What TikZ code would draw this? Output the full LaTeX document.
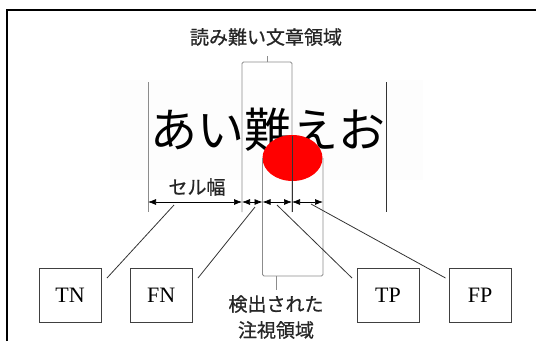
\documentclass[tikz,border=0pt]{standalone}
\usepackage{fontspec}
\setmainfont{Liberation Serif}
\newfontfamily\jp{Noto Sans CJK JP}
\newfontfamily\jpm[FakeBold=0.8]{Noto Sans CJK JP}
\usetikzlibrary{arrows.meta,shapes.geometric,calc}
\begin{document}
\begin{tikzpicture}[x=1pt,y=-1pt,
  lbl/.style={font=\jpm\fontsize{19}{24}\selectfont, inner sep=0pt, text=black!85},
  cbox/.style={draw=black!75, line width=0.9pt, minimum width=62pt, minimum height=54pt, inner sep=0pt, font=\fontsize{22}{24}\selectfont},
  gline/.style={draw=black!45, line width=0.8pt},
  dline/.style={draw=black!80, line width=0.8pt},
  lead/.style={draw=black!80, line width=0.8pt},
  dim/.style={draw=black, line width=0.7pt, {Latex[length=8pt,width=6pt]}-{Latex[length=8pt,width=6pt]}}
]
\useasboundingbox (0,0) rectangle (536,341);
% frame
\draw[line width=1.6pt, black] (7,341) -- (7,10) -- (536,10);
% faint background
\fill[black!0.6] (110,80) rectangle (423,180);
% big text
\node[anchor=base west, inner sep=0pt, font=\jp\fontsize{47}{50}\selectfont] (big) at (150,147) {あい難えお};
% cell lines
\coordinate (c0t) at (148,82); \coordinate (c0b) at (148,212);
\coordinate (c3t) at (386,82); \coordinate (c3b) at (386,212);
\draw[gline] (c0t) -- (c0b);
\draw[dline] (c3t) -- (c3b);
% top bracket
\coordinate (tbL) at (242,212); \coordinate (tbR) at (292,212);
\coordinate (tbtick) at (267,56);
\draw[gline, rounded corners=1.5pt] (tbL) -- (242,62) -- (292,62) -- (tbR);
\draw[gline] (267,62) -- (tbtick);
% top label
\node[lbl] (hard) at (266,37) {読み難い文章領域};
% gaze ellipse
\node[ellipse, fill=red, minimum width=60pt, minimum height=46pt, inner sep=0pt] (gaze) at (292.5,158) {};
\draw[dline] (292,136) -- (292,212);
% bottom bracket
\coordinate (bbL) at (262.5,158); \coordinate (bbR) at (323,158);
\coordinate (bbtick) at (276,290);
\draw[gline, rounded corners=1.5pt] (bbL) -- (262.5,276) -- (323,276) -- (bbR);
\draw[gline] (276,276) -- (bbtick);
\node[lbl, align=center, font=\jpm\fontsize{19}{26}\selectfont] (det) at (276,317) {検出された\\注視領域};
% dimension arrows
\coordinate (a0) at (148,202); \coordinate (a1) at (242,202);
\coordinate (a2) at (262.5,202); \coordinate (a3) at (292,202);
\coordinate (a4) at (323,202);
\draw[dim] (a0) -- (a1);
\draw[dim] (a1) -- (a2);
\draw[dim] (a2) -- (a3);
\draw[dim] (a3) -- (a4);
\node[lbl] (cell) at (197,187) {セル幅};
% boxes
\node[cbox] (TN) at (70,295) {TN};
\node[cbox] (FN) at (161.3,295) {FN};
\node[cbox] (TP) at (388,295) {TP};
\node[cbox] (FP) at (480,295) {FP};
% leaders
\coordinate (lTNs) at (174,205); \coordinate (lTNe) at (107,278);
\coordinate (lFNs) at (255,207); \coordinate (lFNe) at (198,278);
\coordinate (lTPs) at (277,205); \coordinate (lTPe) at (352,278);
\coordinate (lFPs) at (311,204); \coordinate (lFPe) at (445.5,278);
\draw[lead] (lTNs) -- (lTNe);
\draw[lead] (lFNs) -- (lFNe);
\draw[lead] (lTPs) -- (lTPe);
\draw[lead] (lFPs) -- (lFPe);
\end{tikzpicture}
\end{document}
